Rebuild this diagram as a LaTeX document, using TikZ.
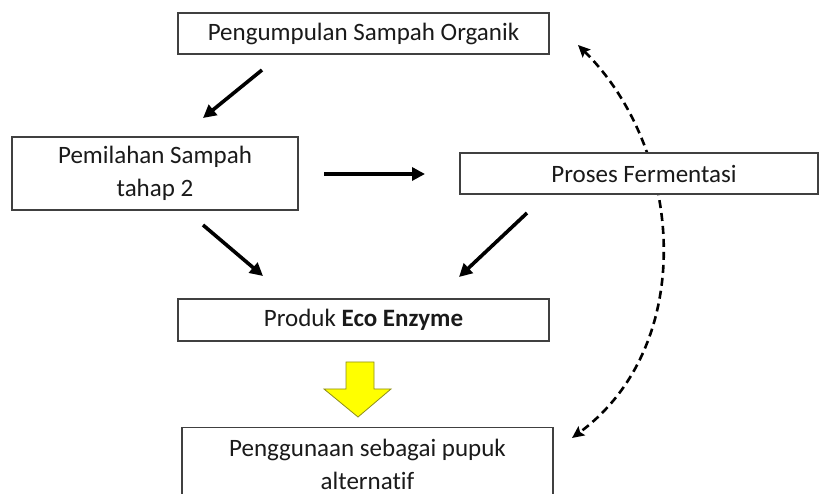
\documentclass[tikz,border=0pt]{standalone}
\usepackage{fontspec}
\setmainfont[Ligatures={NoCommon}]{Carlito}
\usetikzlibrary{arrows.meta}
\definecolor{boxline}{HTML}{404040}
\definecolor{txt}{HTML}{1A1A1A}
\definecolor{arrowyellow}{HTML}{FFFF00}
\definecolor{arrowedge}{HTML}{8C8C1E}
\tikzset{
  stepbox/.style={draw=boxline, line width=1.2pt, fill=white, text=txt,
    inner sep=0pt, align=center, font=\fontsize{25}{33}\selectfont},
  flowarrow/.style={line width=3.6pt, -{Triangle[length=13pt,width=13pt]}},
  loopline/.style={line width=2.6pt, dash pattern=on 8pt off 5pt,
    {Stealth[length=12pt,width=11pt,inset=2pt]}-{Stealth[length=12pt,width=11pt,inset=2pt]}},
}
\begin{document}
\begin{tikzpicture}[x=1pt,y=-1pt]
\useasboundingbox (0,0) rectangle (820,494);
% return loop (drawn first, hidden behind the fermentation box)
\coordinate (loopA) at (578,45);
\coordinate (loopB) at (572,438);
\draw[loopline] (loopA) .. controls (684,150) and (698,345) .. (loopB);
% boxes
\node[stepbox, minimum width=371, minimum height=41] (collect) at (363.5,33.5) {Pengumpulan Sampah Organik};
\node[stepbox, minimum width=286, minimum height=73] (sort) at (155,173.5) {Pemilahan Sampah\\tahap 2};
\node[stepbox, minimum width=358, minimum height=41] (ferment) at (639,173.5) {\hspace*{10pt}Proses Fermentasi};
\node[stepbox, minimum width=371, minimum height=73, anchor=north] (use) at (367.5,427) {Penggunaan sebagai pupuk\\alternatif};
\node[stepbox, minimum width=371, minimum height=42] (product) at (363.5,320) {Produk \textbf{Eco Enzyme}};
% solid arrows
\coordinate (a1s) at (262,70);   \coordinate (a1e) at (203,118);
\coordinate (a2s) at (324,174);  \coordinate (a2e) at (425,174);
\coordinate (a3s) at (203,225);  \coordinate (a3e) at (263,276);
\coordinate (a4s) at (527,213);  \coordinate (a4e) at (459,277);
\draw[flowarrow] (a1s) -- (a1e);
\draw[flowarrow] (a2s) -- (a2e);
\draw[flowarrow] (a3s) -- (a3e);
\draw[flowarrow] (a4s) -- (a4e);
% yellow block arrow
\draw[fill=arrowyellow, draw=arrowedge, line width=0.8pt, line join=miter]
  (346,362) -- (374,362) -- (374,389) -- (391,389) -- (358,417) -- (324,389) -- (346,389) -- cycle;
\end{tikzpicture}
\end{document}
